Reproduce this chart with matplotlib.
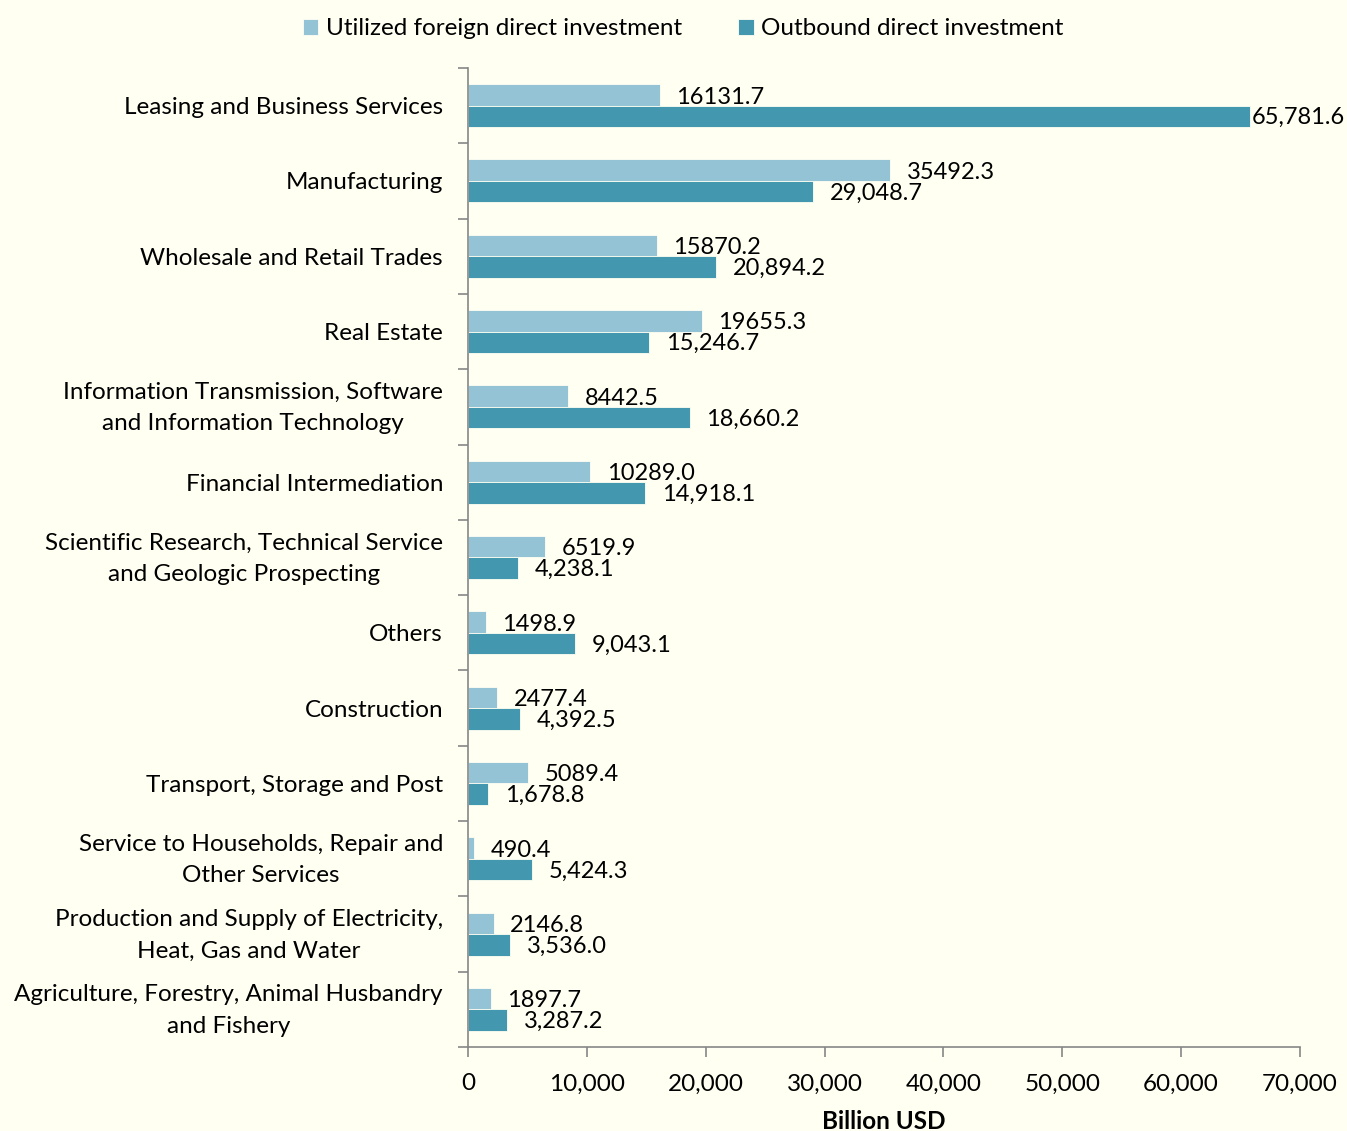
import matplotlib
matplotlib.use("Agg")
import matplotlib.pyplot as plt
import matplotlib.transforms as mtrans
import numpy as np

categories = [
    "Leasing and Business Services",
    "Manufacturing",
    "Wholesale and Retail Trades",
    "Real Estate",
    "Information Transmission, Software\nand Information Technology",
    "Financial Intermediation",
    "Scientific Research, Technical Service\nand Geologic Prospecting",
    "Others",
    "Construction",
    "Transport, Storage and Post",
    "Service to Households, Repair and\nOther Services",
    "Production and Supply of Electricity,\nHeat, Gas and Water",
    "Agriculture, Forestry, Animal Husbandry\nand Fishery",
]
utilized_fdi = [16131.7, 35492.3, 15870.2, 19655.3, 8442.5, 10289.0, 6519.9,
                1498.9, 2477.4, 5089.4, 490.4, 2146.8, 1897.7]
outbound_di = [65781.6, 29048.7, 20894.2, 15246.7, 18660.2, 14918.1, 4238.1,
               9043.1, 4392.5, 1678.8, 5424.3, 3536.0, 3287.2]
series_names = ["Utilized foreign direct investment", "Outbound direct investment"]
xticks = [0, 10000, 20000, 30000, 40000, 50000, 60000, 70000]

BG = "#FFFFF2"
LIGHT = "#93C3D5"
DARK = "#4398B0"
GRAY = "#868686"
FONT = "Lato"

plt.rcParams["font.family"] = [FONT, "DejaVu Sans"]

fig = plt.figure(figsize=(13.47, 11.31), dpi=100, facecolor=BG)
ax = fig.add_axes([468/1347, 1-1047/1131, (1300-468)/1347, (1047-68)/1131])
ax.set_facecolor(BG)

n = len(categories)
y = np.arange(n)
h = 0.285
b1 = ax.barh(y - h/2, utilized_fdi, height=h, color=LIGHT, label=series_names[0],
             edgecolor=BG, linewidth=0.6)
b2 = ax.barh(y + h/2, outbound_di, height=h, color=DARK, label=series_names[1],
             edgecolor=BG, linewidth=0.6)

ax.set_xlim(0, 70000)
ax.set_ylim(n - 0.5, -0.5)

fs_val = 17.0
fs = 17.5
for yi, v in zip(y, utilized_fdi):
    ax.annotate(f"{v:.1f}", (v, yi - h/2), xytext=(12, -1.5), textcoords="offset points",
                va="center", ha="left", fontsize=fs_val, color="black")
for yi, v in zip(y, outbound_di):
    off = 12 if v < 60000 else 1.2
    ax.annotate(f"{v:,.1f}", (v, yi + h/2), xytext=(off, -1), textcoords="offset points",
                va="center", ha="left", fontsize=fs_val, color="black",
                annotation_clip=False)

# category labels (drawn as text so multi-line ones can be nudged)
ax.set_yticks(y)
ax.set_yticklabels([])
ax.tick_params(axis="y", which="major", length=0)
base = mtrans.blended_transform_factory(ax.transAxes, ax.transData)
for yi, cat in zip(y, categories):
    dy = 6 if "\n" in cat else 0
    tr = base + mtrans.ScaledTranslation(-25/100, dy/100, fig.dpi_scale_trans)
    ax.text(0, yi, cat, transform=tr, ha="right", va="center_baseline",
            multialignment="center", linespacing=1.62, fontsize=fs)

ax.set_yticks(np.arange(-0.5, n, 1.0), minor=True)
ax.tick_params(axis="y", which="minor", length=7, color=GRAY, width=1.2)

ax.set_xticks(xticks)
ax.set_xticklabels([f"{t:,}" for t in xticks], fontsize=fs)
ax.tick_params(axis="x", length=7, color=GRAY, width=1.2, pad=12)
ax.set_xlabel("Billion USD", fontsize=fs, fontweight="bold", labelpad=11)

for s in ["top", "right"]:
    ax.spines[s].set_visible(False)
for s in ["left", "bottom"]:
    ax.spines[s].set_color(GRAY)
    ax.spines[s].set_linewidth(1.2)

leg = fig.legend(handles=[b1, b2], loc="upper center", bbox_to_anchor=(0.507, 1.003),
                 ncol=2, frameon=False, fontsize=fs, handlelength=0.65, handleheight=0.65,
                 handletextpad=0.3, columnspacing=2.3)

fig.savefig("out.png", dpi=100, facecolor=BG)
